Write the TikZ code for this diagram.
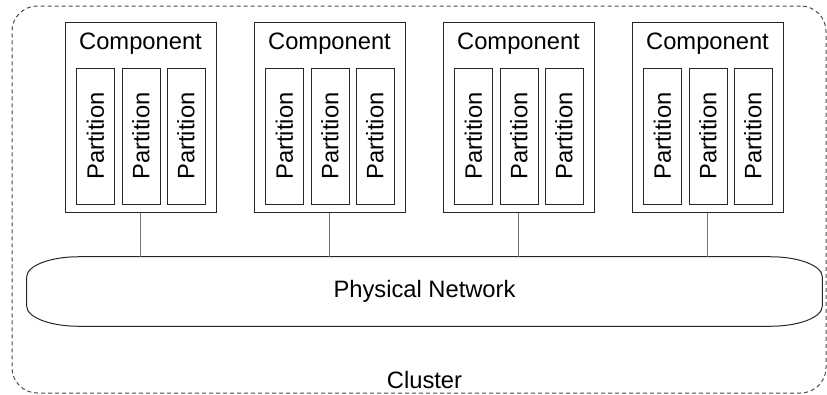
\documentclass[tikz,border=0pt]{standalone}
\usepackage{fontspec}
\setmainfont{Liberation Sans}
\usetikzlibrary{calc}

\begin{document}
\begin{tikzpicture}[x=0.75pt,y=0.75pt]
\tikzset{
    txt/.style={font=\fontsize{17.8}{20}\selectfont, inner sep=0pt},
    comp/.style={draw=black!85, line width=0.75pt, minimum width=113.25pt, minimum height=142.5pt, inner sep=0pt},
    part/.style={draw=black!85, line width=0.75pt, minimum width=28.5pt, minimum height=102pt, inner sep=0pt},
    link/.style={draw=black!55, line width=1.1pt},
    netline/.style={draw=black!85, line width=0.75pt},
    clusterbox/.style={draw=black!70, line width=0.75pt, dash pattern=on 3pt off 2.25pt, rounded corners=19pt, minimum width=610.5pt, minimum height=290.25pt, inner sep=0pt}
}
\useasboundingbox (0,0) rectangle (827,394);

% outer cluster
\node[clusterbox] (cluster) at (419,194.5) {};

% network
\node[txt, minimum width=596.25pt, minimum height=51.75pt] (net) at (424.5,102.5) {Physical Network};
\draw[netline] ($(net.north west)+(52,0)$) -- ($(net.north east)+(-52,0)$)
    arc[start angle=90, end angle=0, x radius=39pt, y radius=15pt]
    -- ($(net.south east)+(0,20)$)
    arc[start angle=0, end angle=-90, x radius=39pt, y radius=15pt]
    -- ($(net.south west)+(52,0)$)
    arc[start angle=270, end angle=180, x radius=39pt, y radius=15pt]
    -- ($(net.north west)+(0,-20)$)
    arc[start angle=180, end angle=90, x radius=39pt, y radius=15pt];

\node[txt] (clusterlabel) at (net.center |- 0,14) {Cluster};

% components with their partitions
\foreach \i/\x in {1/140.5, 2/329.5, 3/518.5, 4/707.5} {
    \node[comp] (comp\i) at (\x,277) {};
    \node[txt] (complabel\i) at ($(comp\i.north)+(0,-22)$) {Component};
    \foreach \j/\dx in {1/-45, 2/0.5, 3/45.5}
        \node[part] (part\i\j) at ($(comp\i.center)+(\dx,-19)$) {\rotatebox{90}{\fontsize{17.8}{20}\selectfont Partition}};
    \draw[link] (comp\i.south) -- (comp\i.south |- net.north);
}

\end{tikzpicture}
\end{document}
